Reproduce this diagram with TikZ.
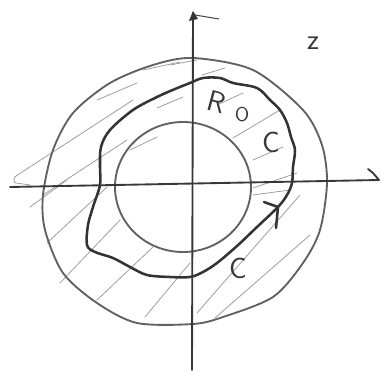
\documentclass[tikz,border=0pt]{standalone}
\tikzset{
  axisline/.style={line width=1.4pt, draw=black!78, line cap=round},
  ring/.style={line width=1.4pt, draw=black!62},
  contour/.style={line width=1.9pt, draw=black!80, line cap=round, line join=round},
  hatch/.style={line width=0.6pt, draw=black!38, line cap=round},
  lbl/.style={font=\sffamily\fontsize{22}{22}\selectfont, text=black!78, inner sep=0pt},
  smalllbl/.style={font=\sffamily\fontsize{15}{15}\selectfont, text=black!78, inner sep=0pt},
}
\begin{document}
\begin{tikzpicture}[x=0.75pt,y=-0.75pt]
\useasboundingbox (0,0) rectangle (382,373);
% hatching
\draw[hatch] (133,100) -- (16,176) to[out=200,in=180] (16,183) -- (30,185);
\draw[hatch] (43,195) -- (127,140);
\draw[hatch] (97,100) -- (137,83);
\draw[hatch] (143,70) -- (180,62);
\draw[hatch] (157,108) -- (183,97);
\draw[hatch] (130,150) -- (157,137);
\draw[hatch] (170,65) -- (197,60);
\draw[hatch] (202,75) -- (225,68);
\draw[hatch] (217,105) -- (243,93);
\draw[hatch] (233,138) -- (280,110);
\draw[hatch] (253,160) -- (283,147);
\draw[hatch] (253,188) -- (297,173);
\draw[hatch] (30,207) -- (67,180);
\draw[hatch] (47,243) -- (107,187);
\draw[hatch] (60,283) -- (120,220);
\draw[hatch] (97,300) -- (153,247);
\draw[hatch] (145,317) -- (190,263);
\draw[hatch] (253,195) -- (290,190);
\draw[hatch] (197,313) -- (300,195);
\draw[hatch] (215,318) -- (310,235);
% outer circle
\draw[ring] plot[smooth cycle] coordinates {(193,58) (253,70) (303,110) (322,145) (327,183) (320,230) (303,263) (273,297) (223,317) (193,324) (137,323) (97,303) (63,273) (45,230) (43,195) (53,150) (73,113) (110,83) (153,65)};
% inner circle
\draw[ring] (183,187) ellipse [x radius=68, y radius=65];
% contour C
\draw[contour] plot[smooth cycle, tension=0.55] coordinates {(190,83) (203,78) (220,78) (233,83) (257,88) (270,100) (280,110) (287,123) (291,137) (295,150) (293,167) (292,183) (287,195) (278,207) (257,227) (237,246) (217,263) (203,272) (190,277) (170,277) (147,275) (130,267) (113,258) (95,252) (87,245) (88,225) (93,207) (100,185) (100,167) (101,147) (110,130) (133,110) (157,97) (175,89)};
\coordinate (tip) at (278,207);
\coordinate (barbA) at (264,202);
\coordinate (barbB) at (276,228);
\draw[contour] (barbA) -- (tip) -- (barbB);
% axes
\coordinate (xs) at (10,187);
\coordinate (xe) at (379,180);
\coordinate (ys) at (192,370);
\coordinate (ye) at (193,13);
\draw[axisline] (xs) -- (xe);
\draw[axisline] (ys) -- (ye);
\coordinate (xb) at (368,169);
\draw[axisline] (xb) -- (373,173) -- (xe);
\coordinate (yf) at (219,19);
\fill[black!80] (189,21) -- (193,11) -- (198,19) -- cycle;
\draw[line width=0.8pt, draw=black!70] (195,15) -- (yf);
% labels
\node[lbl, rotate=-15] (lR) at (217,102) {R};
\node[smalllbl] (lO) at (242,115) {O};
\node[lbl] (lC) at (271,142) {C};
\node[lbl] (lc) at (238,268) {C};
\node[lbl] (lz) at (313,43) {z};
\end{tikzpicture}
\end{document}
